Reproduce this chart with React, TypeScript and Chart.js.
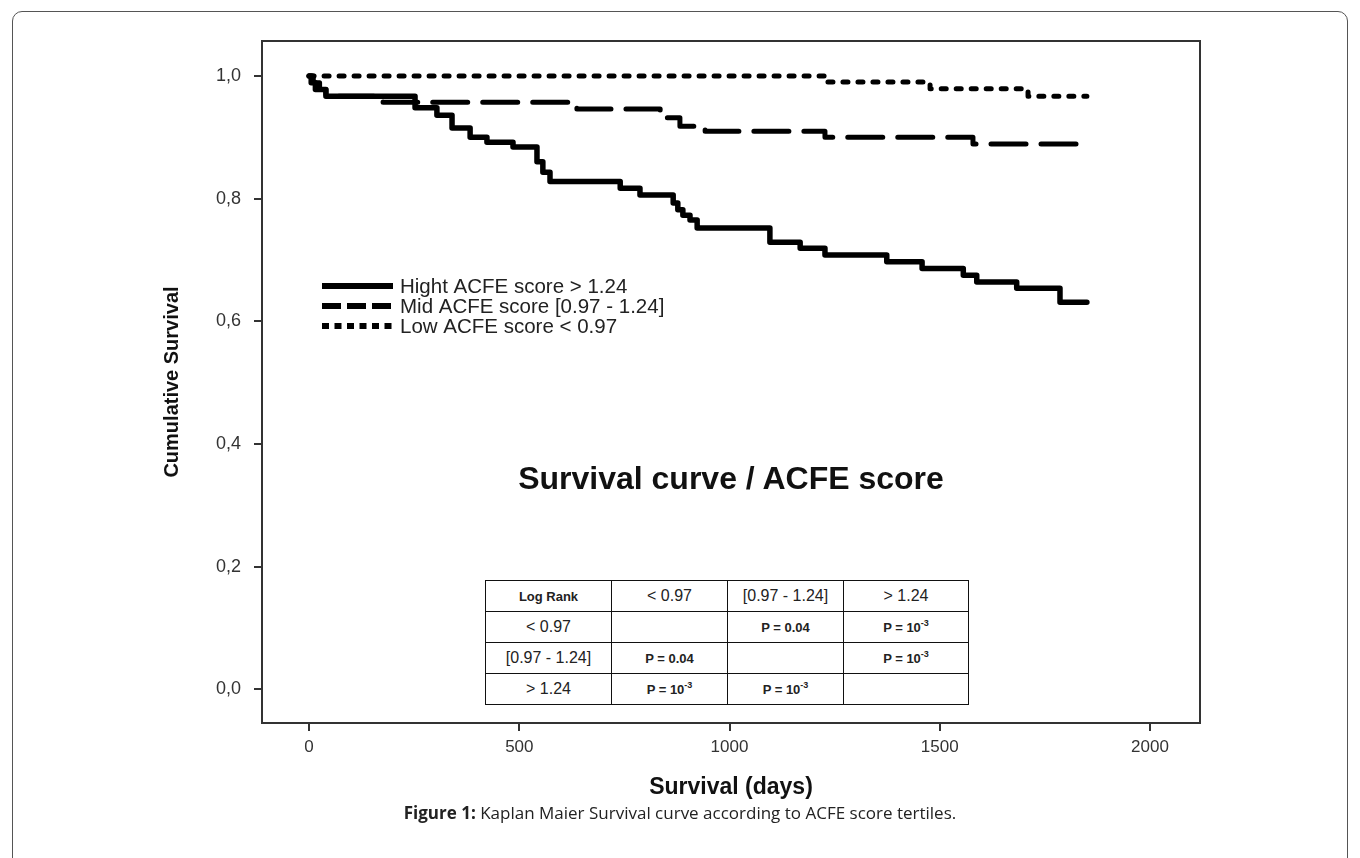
import React, { useEffect, useRef } from "react";
import { Chart, registerables } from "chart.js";

Chart.register(...registerables);

// ---- Data ----
const HIGH_DAYS = [0, 5, 15, 40, 252, 304, 340, 383, 423, 485, 542, 556, 573, 740, 787, 866, 877, 889, 906, 923, 1096, 1168, 1227, 1374, 1458, 1556, 1588, 1683, 1786, 1850];
const HIGH_SURV = [1, 0.989, 0.978, 0.967, 0.948, 0.936, 0.915, 0.9, 0.892, 0.884, 0.86, 0.843, 0.828, 0.817, 0.806, 0.793, 0.782, 0.773, 0.765, 0.752, 0.729, 0.719, 0.708, 0.697, 0.686, 0.675, 0.664, 0.654, 0.631, 0.631];

const MID_DAYS = [0, 10, 25, 40, 176, 637, 835, 882, 942, 1227, 1579, 1850];
const MID_SURV = [1, 0.989, 0.978, 0.967, 0.957, 0.946, 0.932, 0.918, 0.91, 0.9, 0.889, 0.889];

const LOW_DAYS = [0, 1234, 1477, 1710, 1850];
const LOW_SURV = [1, 0.99, 0.979, 0.967, 0.967];

const SERIES_LABELS = ["Hight ACFE score > 1.24", "Mid ACFE score [0.97 - 1.24]", "Low ACFE score < 0.97"];

const X_TICKS = [0, 500, 1000, 1500, 2000];
const Y_TICKS = [0, 0.2, 0.4, 0.6, 0.8, 1.0];

const LOGRANK_GROUPS = ["< 0.97", "[0.97 - 1.24]", "> 1.24"];
const LOGRANK_P = [
  ["", "0.04", "10^-3"],
  ["0.04", "", "10^-3"],
  ["10^-3", "10^-3", ""],
];

const CHART_TITLE = "Survival curve / ACFE score";
const X_TITLE = "Survival (days)";
const Y_TITLE = "Cumulative Survival";

const FONT = "'Liberation Sans', Arial, Helvetica, sans-serif";

const toPoints = (xs: number[], ys: number[]) => xs.map((x, i) => ({ x, y: ys[i] }));

const LEGEND_DASH = [[], [19, 6], [7, 5.5]];

const decorPlugin = {
  id: "kmDecor",
  afterDatasetsDraw(chart: any) {
    const { ctx, chartArea: a } = chart;
    ctx.save();
    ctx.strokeStyle = "#333";
    ctx.lineWidth = 2;
    ctx.strokeRect(a.left, a.top, a.right - a.left, a.bottom - a.top);

    // legend
    const x0 = 322, x1 = 393, tx = 400;
    const rows = [286, 306, 326];
    chart.data.datasets.forEach((ds: any, i: number) => {
      const y = rows[i];
      ctx.beginPath();
      ctx.setLineDash(LEGEND_DASH[i]);
      ctx.lineCap = "butt";
      ctx.lineWidth = 6;
      ctx.strokeStyle = ds.borderColor;
      ctx.moveTo(x0, y);
      ctx.lineTo(x1, y);
      ctx.stroke();
      ctx.setLineDash([]);
      ctx.fillStyle = "#222";
      ctx.font = `20.5px ${FONT}`;
      ctx.textBaseline = "middle";
      ctx.textAlign = "left";
      ctx.fillText(ds.label, tx, y + 1);
    });
    ctx.restore();
  },
};

function PCell({ v }: { v: string }) {
  if (!v) return null;
  if (v.includes("^")) {
    const [b, e] = v.split("^");
    return (
      <b>
        P = {b}
        <sup style={{ fontSize: 9, verticalAlign: "top", position: "relative", top: -2 }}>{e}</sup>
      </b>
    );
  }
  return <b>P = {v}</b>;
}

export default function App() {
  const ref = useRef<HTMLCanvasElement | null>(null);

  useEffect(() => {
    if (!ref.current) return;
    const common = {
      borderColor: "#000",
      borderWidth: 5,
      pointRadius: 0,
      stepped: true as const,
      fill: false,
      borderCapStyle: "round" as const,
      borderJoinStyle: "round" as const,
      tension: 0,
    };
    const chart = new Chart(ref.current, {
      type: "line",
      data: {
        datasets: [
          { ...common, label: SERIES_LABELS[0], data: toPoints(HIGH_DAYS, HIGH_SURV), borderWidth: 5.5 },
          { ...common, label: SERIES_LABELS[1], data: toPoints(MID_DAYS, MID_SURV), borderDash: [35, 15] },
          { ...common, label: SERIES_LABELS[2], data: toPoints(LOW_DAYS, LOW_SURV), borderDash: [5, 10] },
        ],
      },
      options: {
        animation: false,
        responsive: false,
        events: [],
        layout: { padding: { top: 41, right: 160, bottom: 0, left: 0 } },
        plugins: { legend: { display: false }, tooltip: { enabled: false } },
        scales: {
          x: {
            type: "linear",
            min: -112,
            max: 2119,
            afterFit: (s: any) => { s.height = 135; },
            afterBuildTicks: (s: any) => { s.ticks = X_TICKS.map((v) => ({ value: v })); },
            grid: { drawOnChartArea: false, drawTicks: true, tickLength: 8, color: "#333", lineWidth: 2 },
            border: { display: true, color: "#333", width: 2 },
            ticks: { color: "#333", padding: 6, maxRotation: 0, autoSkip: false, font: { family: FONT, size: 17 }, callback: (v: any) => String(v) },
            title: { display: true, text: X_TITLE, color: "#111", font: { family: FONT, size: 23, weight: "bold" }, padding: { top: 0, bottom: 57 } },
          },
          y: {
            type: "linear",
            min: -0.055,
            max: 1.057,
            afterFit: (s: any) => { s.width = 262; },
            afterBuildTicks: (s: any) => { s.ticks = Y_TICKS.map((v) => ({ value: v })); },
            grid: { drawOnChartArea: false, drawTicks: true, tickLength: 8, color: "#333", lineWidth: 2 },
            border: { display: true, color: "#333", width: 2 },
            ticks: { color: "#333", padding: 13, autoSkip: false, font: { family: FONT, size: 18 }, callback: (v: any) => Number(v).toFixed(1).replace(".", ",") },
            title: { display: true, text: Y_TITLE, color: "#111", font: { family: FONT, size: 20, weight: "bold" }, padding: { top: 160, bottom: 0 } },
          },
        },
      },
      plugins: [decorPlugin],
    });
    return () => chart.destroy();
  }, []);

  const colW = [126, 116, 116, 125];
  const cell: React.CSSProperties = { border: "1px solid #111", height: 30, padding: 0, textAlign: "center", verticalAlign: "middle", color: "#222" };

  return (
    <div style={{ position: "absolute", left: 0, top: 0, width: 1360, height: 858, overflow: "hidden", background: "#fff" }}>
      <div style={{ position: "absolute", left: 12, top: 11, width: 1336, height: 900, border: "1px solid #555", borderRadius: 10, boxSizing: "border-box" }} />
      <canvas ref={ref} width={1360} height={858} style={{ position: "absolute", left: 0, top: 0, width: 1360, height: 858 }} />
      <div style={{ position: "absolute", left: 262, width: 938, top: 458, textAlign: "center", fontFamily: FONT, fontWeight: "bold", fontSize: 32, lineHeight: "40px", color: "#111" }}>
        {CHART_TITLE}
      </div>
      <table style={{ position: "absolute", left: 485, top: 580, borderCollapse: "collapse", tableLayout: "fixed", width: 484, fontFamily: FONT, background: "#fff" }}>
        <colgroup>
          {colW.map((w, i) => <col key={i} style={{ width: w }} />)}
        </colgroup>
        <tbody>
          <tr>
            <td style={{ ...cell, fontWeight: "bold", fontSize: 13 }}>Log Rank</td>
            {LOGRANK_GROUPS.map((g) => <td key={g} style={{ ...cell, fontSize: 16 }}>{g}</td>)}
          </tr>
          {LOGRANK_GROUPS.map((g, r) => (
            <tr key={g}>
              <td style={{ ...cell, fontSize: 16 }}>{g}</td>
              {LOGRANK_P[r].map((p, c) => (
                <td key={c} style={{ ...cell, fontSize: 13 }}><PCell v={p} /></td>
              ))}
            </tr>
          ))}
        </tbody>
      </table>
      <div style={{ position: "absolute", left: 12, width: 1336, top: 802, textAlign: "center", fontFamily: "'Open Sans', sans-serif", fontSize: 17, lineHeight: "22px", color: "#222" }}>
        <b>Figure 1:</b> Kaplan Maier Survival curve according to ACFE score tertiles.
      </div>
    </div>
  );
}
